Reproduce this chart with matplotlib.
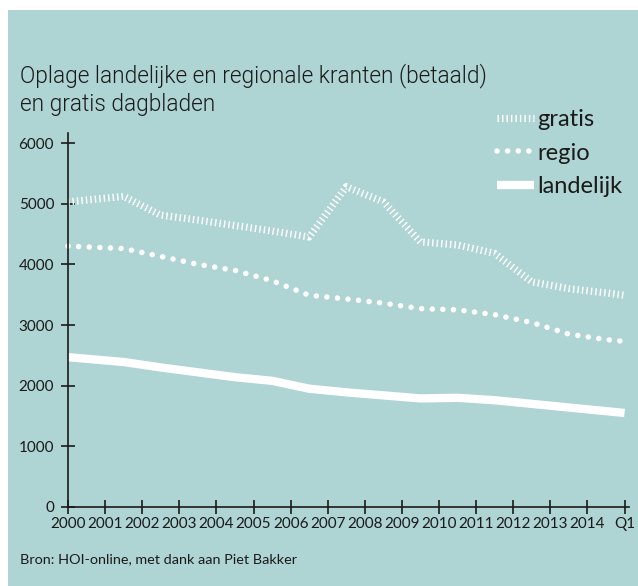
import matplotlib.pyplot as plt
from matplotlib.patches import Rectangle

plt.rcParams['font.family'] = ['Lato', 'DejaVu Sans']

labels = ["2000", "2001", "2002", "2003", "2004", "2005", "2006", "2007",
          "2008", "2009", "2010", "2011", "2012", "2013", "2014", "Q1"]
# data points sit between the year ticks in the original
pos = [0, 1.5, 2.5, 3.5, 4.5, 5.5, 6.5, 7.5, 8.5, 9.5, 10.5, 11.5, 12.5, 13.5, 14.5, 15]
gratis = [5030, 5120, 4810, 4730, 4640, 4550, 4450, 5280, 5030, 4370, 4320, 4180, 3710, 3600, 3530, 3490]
regio = [4300, 4260, 4130, 4000, 3900, 3730, 3490, 3430, 3360, 3270, 3250, 3170, 3040, 2850, 2760, 2730]
landelijk = [2470, 2390, 2300, 2220, 2140, 2080, 1950, 1890, 1840, 1790, 1800, 1760, 1700, 1640, 1580, 1550]

bg = "#aed4d3"
ink = "#1a1a1a"

fig = plt.figure(figsize=(6.38, 5.86), dpi=100)
fig.patches.append(Rectangle((8 / 638, 0), 1, 576 / 586, transform=fig.transFigure,
                             facecolor=bg, edgecolor="none", zorder=-10))

ax = fig.add_axes([68 / 638, 79 / 586, 561 / 638, 374 / 586])
ax.set_facecolor("none")

ax.plot(pos, gratis, color="white", lw=5.2, dashes=(0.2, 0.42),
        dash_capstyle="butt", solid_joinstyle="miter", label="gratis", clip_on=False)
ax.plot(pos, regio, color="white", lw=4.0, dashes=(0.01, 1.9),
        dash_capstyle="round", label="regio", clip_on=False)
ax.plot(pos, landelijk, color="white", lw=6, solid_capstyle="butt",
        label="landelijk", clip_on=False)

ax.set_xlim(0, 15.12)
ax.set_ylim(0, 6165)
ax.set_xticks(range(len(labels)))
ax.set_xticklabels(labels)
ax.set_yticks([0, 1000, 2000, 3000, 4000, 5000, 6000])
for s in ["top", "right"]:
    ax.spines[s].set_visible(False)
for s in ["left", "bottom"]:
    ax.spines[s].set_linewidth(1.2)
    ax.spines[s].set_color(ink)
ax.tick_params(axis="both", direction="inout", length=10, width=1.2, color=ink,
               labelcolor=ink, labelsize=11)
ax.tick_params(axis="x", pad=2)
ax.tick_params(axis="y", pad=5)

leg = ax.legend(loc="upper right", bbox_to_anchor=(644 / 638, 1 - 88 / 586),
                bbox_transform=fig.transFigure, frameon=False, fontsize=17,
                handlelength=1.55, handletextpad=0.15, labelspacing=0.52,
                labelcolor=ink)

fig.text(20 / 638, 1 - 63 / 586, "Oplage landelijke en regionale kranten (betaald)\nen gratis dagbladen",
         fontsize=16.3, family=["Roboto", "Lato"], fontweight=300, color=ink,
         va="top", ha="left", linespacing=1.3)
fig.text(20 / 638, 1 - 559 / 586, "Bron: HOI-online, met dank aan Piet Bakker",
         fontsize=10.4, color=ink, va="center", ha="left")

fig.savefig("out.png", dpi=100, facecolor="white")
